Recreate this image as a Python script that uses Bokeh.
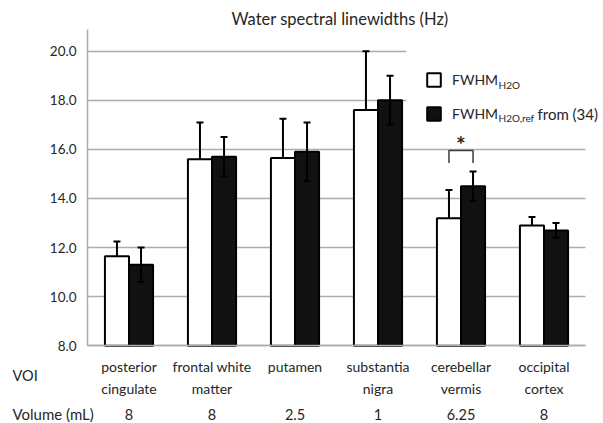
from bokeh.plotting import figure
from bokeh.models import (Range1d, ColumnDataSource, Whisker, TeeHead, LinearAxis,
                          Legend, LegendItem, Label, BoxAnnotation,
                          FixedTicker, PrintfTickFormatter)
from bokeh.core.properties import value
from bokeh.embed import file_html
from bokeh.resources import INLINE

# ---- data ----
categories = ["posterior\ncingulate", "frontal white\nmatter", "putamen",
              "substantia\nnigra", "cerebellar\nvermis", "occipital\ncortex"]
fwhm_h2o = [11.65, 15.6, 15.65, 17.6, 13.2, 12.9]
fwhm_h2o_sd = [0.6, 1.5, 1.6, 2.4, 1.15, 0.35]
fwhm_ref = [11.3, 15.7, 15.9, 18.0, 14.5, 12.7]
fwhm_ref_sd = [0.7, 0.8, 1.2, 1.0, 0.6, 0.3]
volumes_ml = ["8", "8", "2.5", "1", "6.25", "8"]
y_ticks = [8, 10, 12, 14, 16, 18, 20]
y_axis_top = 20.9
signif_category = "cerebellar\nvermis"
bracket_low, bracket_high, star_y = 15.45, 15.95, 16.2

FONT = "Lato"
TXT = "#262626"
GRID = "#adadad"
OFF = 0.145      # bar offset from category centre (category units)
BW = 0.29        # bar width (category units)

centres = [i + 0.5 for i in range(len(categories))]
src = ColumnDataSource(dict(
    xw=[c - OFF for c in centres],
    xb=[c + OFF for c in centres],
    h2o=fwhm_h2o,
    ref=fwhm_ref,
    h2o_top=[v + e for v, e in zip(fwhm_h2o, fwhm_h2o_sd)],
    ref_top=[v + e for v, e in zip(fwhm_ref, fwhm_ref_sd)],
    ref_bot=[v - e for v, e in zip(fwhm_ref, fwhm_ref_sd)],
))

# frame spans the whole canvas; axes are drawn at fixed locations inside it
p = figure(x_range=Range1d(-87 / 83, 516 / 83), y_range=Range1d(4.835, 22.065),
           width=603, height=423, output_backend="svg", toolbar_location=None,
           min_border=0, min_border_left=0, min_border_right=0,
           min_border_top=0, min_border_bottom=0)
p.outline_line_color = None
p.background_fill_color = "white"
p.xgrid.visible = False
yg = p.ygrid[0]
yg.grid_line_color = GRID
yg.grid_line_width = 1.5
yg.ticker = FixedTicker(ticks=y_ticks)

n = len(categories)
# hide grid lines outside the category span (level underlay, drawn after grid)
for l, r in [(None, 0), (n, None)]:
    p.add_layout(BoxAnnotation(left=l, right=r, fill_color="white", fill_alpha=1,
                               line_color=None, level="underlay"))
# legend background
p.add_layout(BoxAnnotation(left=3.84, right=None, top=20.5, bottom=16.45,
                           fill_color="white", fill_alpha=1, line_color=None,
                           level="underlay"))

ya = p.yaxis[0]
ya.fixed_location = 0
ya.bounds = (y_ticks[0], y_axis_top)
ya.ticker = FixedTicker(ticks=y_ticks)
ya.formatter = PrintfTickFormatter(format="%.1f")
ya.axis_line_color = GRID
ya.axis_line_width = 1.5
ya.major_tick_line_color = None
ya.minor_tick_line_color = None
ya.major_tick_out = 0
ya.major_tick_in = 0
ya.major_label_standoff = 11
ya.major_label_text_font = FONT
ya.major_label_text_font_size = "13.5px"
ya.major_label_text_color = TXT

xa = p.xaxis[0]
xa.fixed_location = y_ticks[0]
xa.bounds = (0, n)
xa.ticker = FixedTicker(ticks=centres)
xa.major_label_overrides = dict(zip(centres, categories))
xa.axis_line_color = GRID
xa.axis_line_width = 1.5
xa.major_tick_line_color = None
xa.minor_tick_line_color = None
xa.major_tick_out = 0
xa.major_tick_in = 0
xa.major_label_standoff = 12
xa.major_label_text_font = FONT
xa.major_label_text_font_size = "14px"
xa.major_label_text_color = TXT
xa.major_label_text_line_height = 1.3

vol_axis = LinearAxis(fixed_location=y_ticks[0], ticker=FixedTicker(ticks=centres),
                      major_label_overrides=dict(zip(centres, volumes_ml)),
                      axis_line_color=None, major_tick_line_color=None,
                      minor_tick_line_color=None, major_tick_out=0, major_tick_in=0,
                      major_label_standoff=63, major_label_text_font=FONT,
                      major_label_text_font_size="14.5px", major_label_text_color=TXT)
p.add_layout(vol_axis, "below")

white_bars = p.vbar(x="xw", top="h2o", bottom=y_ticks[0], width=BW, source=src,
                    fill_color="white", line_color="black", line_width=2)
black_bars = p.vbar(x="xb", top="ref", bottom=y_ticks[0], width=BW, source=src,
                    fill_color="#111111", line_color="black", line_width=2)

p.add_layout(Whisker(source=src, base="xw", upper="h2o_top", lower="h2o",
                     line_color="black", line_width=2,
                     upper_head=TeeHead(size=7, line_width=2, line_color="black"),
                     lower_head=None, level="overlay"))
p.add_layout(Whisker(source=src, base="xb", upper="ref_top", lower="ref_bot",
                     line_color="black", line_width=2,
                     upper_head=TeeHead(size=7, line_width=2, line_color="black"),
                     lower_head=TeeHead(size=7, line_width=2, line_color="black"),
                     level="overlay"))

# significance bracket
sc = centres[categories.index(signif_category)]
p.multi_line(xs=[[sc - OFF, sc - OFF, sc + OFF, sc + OFF]],
             ys=[[bracket_low, bracket_high, bracket_high, bracket_low]],
             line_color="#3c3c3c", line_width=1.5)
p.text(x=[sc], y=[star_y], text=["*"], text_align="center",
       text_baseline="middle", text_font=value(FONT), text_font_size="23px",
       text_font_style="bold", text_color=TXT)

legend = Legend(items=[LegendItem(label="FWHM", renderers=[white_bars]),
                       LegendItem(label="FWHM", renderers=[black_bars])],
                location=(425, 301), padding=0, margin=0, spacing=17,
                glyph_width=17, glyph_height=17, label_height=17, label_standoff=10,
                label_text_font=FONT, label_text_font_size="14px",
                label_text_color=TXT, background_fill_alpha=0,
                border_line_color=None)
p.add_layout(legend)

def lab(text, x, y, size="14px", align="left"):
    p.add_layout(Label(text=text, x=x, y=y, x_units="screen", y_units="screen",
                       text_font=FONT, text_font_size=size, text_color=TXT,
                       text_align=align, text_baseline="middle"))

lab("H2O", 498, 339, size="10px")
lab("H2O,ref", 498, 306, size="10px")
lab("from (34)", 537, 310, size="15px")
lab("Water spectral linewidths (Hz)", 339.5, 405, size="16.5px", align="center")
lab("VOI", 12, 48, size="14.5px")
lab("Volume (mL)", 12, 9.5, size="15px")

open("out.html", "w").write(file_html(p, INLINE))
